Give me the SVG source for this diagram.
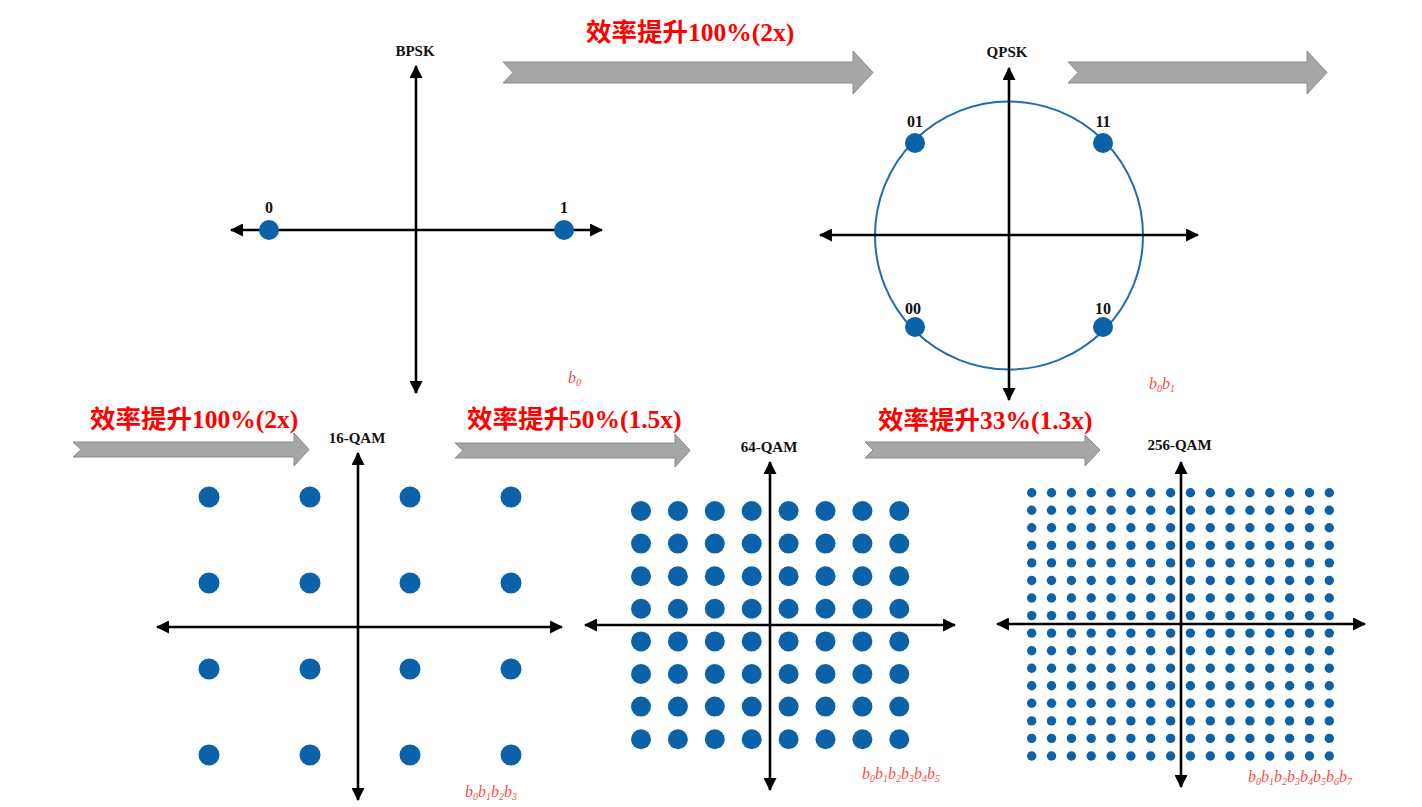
<svg xmlns="http://www.w3.org/2000/svg" xmlns:xlink="http://www.w3.org/1999/xlink" width="1422" height="807" viewBox="0 0 1422 807">
<style>
.ax{stroke:#000;stroke-width:2.6;fill:none;marker-start:url(#ah);marker-end:url(#ah)}
.pt{fill:#0b62a8}
.lbl{font-family:"Liberation Serif","Times New Roman",serif;font-weight:bold;font-size:15px;fill:#111;text-anchor:middle}
.num{font-size:16px}
.gain{font-family:"Liberation Serif","Noto Sans CJK SC",serif;font-weight:bold;font-size:25.5px;fill:#ff0000}
.blk{fill:#a6a6a6;stroke:#8a8a8a;stroke-width:1}
.bits{font-family:"Liberation Serif","Times New Roman",serif;font-style:italic;font-size:16px;fill:#ff4a4a}
.sub{font-size:10px}
</style>
<defs>
<marker id="ah" viewBox="0 0 12 12" refX="11" refY="6" markerWidth="13" markerHeight="13" markerUnits="userSpaceOnUse" orient="auto-start-reverse">
<path d="M0,0 L12,6 L0,12 z" fill="#000"/>
</marker>
<g id="row64">
<circle class="pt" cx="641" cy="0" r="10"/><circle class="pt" cx="677.9" cy="0" r="10"/><circle class="pt" cx="714.8" cy="0" r="10"/><circle class="pt" cx="751.7" cy="0" r="10"/><circle class="pt" cx="788.6" cy="0" r="10"/><circle class="pt" cx="825.5" cy="0" r="10"/><circle class="pt" cx="862.4" cy="0" r="10"/><circle class="pt" cx="899.3" cy="0" r="10"/>
</g>
<g id="row256">
<circle class="pt" cx="1031.7" cy="0" r="4.7"/><circle class="pt" cx="1051.5" cy="0" r="4.7"/><circle class="pt" cx="1071.4" cy="0" r="4.7"/><circle class="pt" cx="1091.2" cy="0" r="4.7"/><circle class="pt" cx="1111.1" cy="0" r="4.7"/><circle class="pt" cx="1130.9" cy="0" r="4.7"/><circle class="pt" cx="1150.7" cy="0" r="4.7"/><circle class="pt" cx="1170.6" cy="0" r="4.7"/><circle class="pt" cx="1190.4" cy="0" r="4.7"/><circle class="pt" cx="1210.3" cy="0" r="4.7"/><circle class="pt" cx="1230.1" cy="0" r="4.7"/><circle class="pt" cx="1249.9" cy="0" r="4.7"/><circle class="pt" cx="1269.8" cy="0" r="4.7"/><circle class="pt" cx="1289.6" cy="0" r="4.7"/><circle class="pt" cx="1309.5" cy="0" r="4.7"/><circle class="pt" cx="1329.3" cy="0" r="4.7"/>
</g>
</defs>
<rect width="1422" height="807" fill="#fff"/>

<g id="connectors">
<polygon class="blk" points="503,62 853,62 853,51 873,72.5 853,94 853,83 503,83 513,72.5"/>
<polygon class="blk" points="1068,62 1307,62 1307,51 1327,72.5 1307,94 1307,83 1068,83 1078,72.5"/>
<polygon class="blk" points="73,442 294,442 294,433 309,449.5 294,466 294,457 73,457 81,449.5"/>
<polygon class="blk" points="455,443 675,443 675,434 690,450.5 675,467 675,458 455,458 463,450.5"/>
<polygon class="blk" points="865,442 1085,442 1085,435 1100,450 1085,466 1085,458 865,458 873,450"/>
<text class="gain" x="586" y="41">效率提升100%(2x)</text>
<text class="gain" x="90" y="428">效率提升100%(2x)</text>
<text class="gain" x="467" y="428">效率提升50%(1.5x)</text>
<text class="gain" x="878" y="429">效率提升33%(1.3x)</text>
</g>

<g id="bpsk">
<line class="ax" x1="416" y1="393" x2="416" y2="66"/>
<line class="ax" x1="231" y1="230" x2="602" y2="230"/>
<circle class="pt" cx="269" cy="230" r="10"/>
<circle class="pt" cx="564" cy="230" r="10"/>
<text class="lbl" x="415" y="56">BPSK</text>
<text class="lbl num" x="269" y="213">0</text>
<text class="lbl num" x="564" y="213">1</text>
<text class="bits" x="568" y="383">b<tspan class="sub" dy="3">0</tspan></text>
</g>

<g id="qpsk">
<circle cx="1009" cy="235.5" r="134" fill="none" stroke="#1f6db0" stroke-width="2"/>
<line class="ax" x1="1009" y1="400" x2="1009" y2="68"/>
<line class="ax" x1="820" y1="235" x2="1198" y2="235"/>
<circle class="pt" cx="915" cy="143" r="10"/>
<circle class="pt" cx="1103" cy="143" r="10"/>
<circle class="pt" cx="915" cy="327" r="10"/>
<circle class="pt" cx="1103" cy="327" r="10"/>
<text class="lbl" x="1007" y="57">QPSK</text>
<text class="lbl num" x="915" y="127">01</text>
<text class="lbl num" x="1103" y="127">11</text>
<text class="lbl num" x="913" y="314">00</text>
<text class="lbl num" x="1103" y="314">10</text>
<text class="bits" x="1149" y="389">b<tspan class="sub" dy="3">0</tspan><tspan dy="-3">b</tspan><tspan class="sub" dy="3">1</tspan></text>
</g>

<g id="qam16">
<line class="ax" x1="358" y1="800" x2="358" y2="453"/>
<line class="ax" x1="157" y1="627" x2="562" y2="627"/>
<circle class="pt" cx="209" cy="497" r="10.5"/><circle class="pt" cx="310" cy="497" r="10.5"/><circle class="pt" cx="410" cy="497" r="10.5"/><circle class="pt" cx="511" cy="497" r="10.5"/>
<circle class="pt" cx="209" cy="583" r="10.5"/><circle class="pt" cx="310" cy="583" r="10.5"/><circle class="pt" cx="410" cy="583" r="10.5"/><circle class="pt" cx="511" cy="583" r="10.5"/>
<circle class="pt" cx="209" cy="669" r="10.5"/><circle class="pt" cx="310" cy="669" r="10.5"/><circle class="pt" cx="410" cy="669" r="10.5"/><circle class="pt" cx="511" cy="669" r="10.5"/>
<circle class="pt" cx="209" cy="755" r="10.5"/><circle class="pt" cx="310" cy="755" r="10.5"/><circle class="pt" cx="410" cy="755" r="10.5"/><circle class="pt" cx="511" cy="755" r="10.5"/>
<text class="lbl" x="357" y="443">16-QAM</text>
<text class="bits" x="465" y="797">b<tspan class="sub" dy="3">0</tspan><tspan dy="-3">b</tspan><tspan class="sub" dy="3">1</tspan><tspan dy="-3">b</tspan><tspan class="sub" dy="3">2</tspan><tspan dy="-3">b</tspan><tspan class="sub" dy="3">3</tspan></text>
</g>

<g id="qam64">
<line class="ax" x1="770" y1="790" x2="770" y2="462"/>
<line class="ax" x1="585" y1="625" x2="955" y2="625"/>
<use xlink:href="#row64" y="511"/><use xlink:href="#row64" y="543.6"/><use xlink:href="#row64" y="576.2"/><use xlink:href="#row64" y="608.8"/>
<use xlink:href="#row64" y="641.4"/><use xlink:href="#row64" y="674"/><use xlink:href="#row64" y="706.6"/><use xlink:href="#row64" y="739.2"/>
<text class="lbl" x="769" y="452">64-QAM</text>
<text class="bits" x="862" y="779">b<tspan class="sub" dy="3">0</tspan><tspan dy="-3">b</tspan><tspan class="sub" dy="3">1</tspan><tspan dy="-3">b</tspan><tspan class="sub" dy="3">2</tspan><tspan dy="-3">b</tspan><tspan class="sub" dy="3">3</tspan><tspan dy="-3">b</tspan><tspan class="sub" dy="3">4</tspan><tspan dy="-3">b</tspan><tspan class="sub" dy="3">5</tspan></text>
</g>

<g id="qam256">
<use xlink:href="#row256" y="492.7"/><use xlink:href="#row256" y="510.3"/><use xlink:href="#row256" y="527.8"/><use xlink:href="#row256" y="545.4"/>
<use xlink:href="#row256" y="562.9"/><use xlink:href="#row256" y="580.5"/><use xlink:href="#row256" y="598"/><use xlink:href="#row256" y="615.6"/>
<use xlink:href="#row256" y="633.1"/><use xlink:href="#row256" y="650.7"/><use xlink:href="#row256" y="668.2"/><use xlink:href="#row256" y="685.8"/>
<use xlink:href="#row256" y="703.3"/><use xlink:href="#row256" y="720.9"/><use xlink:href="#row256" y="738.4"/><use xlink:href="#row256" y="756"/>
<line class="ax" x1="1181" y1="787" x2="1181" y2="462"/>
<line class="ax" x1="997" y1="624" x2="1365" y2="624"/>
<text class="lbl" x="1179.5" y="450">256-QAM</text>
<text class="bits" x="1248" y="782">b<tspan class="sub" dy="3">0</tspan><tspan dy="-3">b</tspan><tspan class="sub" dy="3">1</tspan><tspan dy="-3">b</tspan><tspan class="sub" dy="3">2</tspan><tspan dy="-3">b</tspan><tspan class="sub" dy="3">3</tspan><tspan dy="-3">b</tspan><tspan class="sub" dy="3">4</tspan><tspan dy="-3">b</tspan><tspan class="sub" dy="3">5</tspan><tspan dy="-3">b</tspan><tspan class="sub" dy="3">6</tspan><tspan dy="-3">b</tspan><tspan class="sub" dy="3">7</tspan></text>
</g>
</svg>
